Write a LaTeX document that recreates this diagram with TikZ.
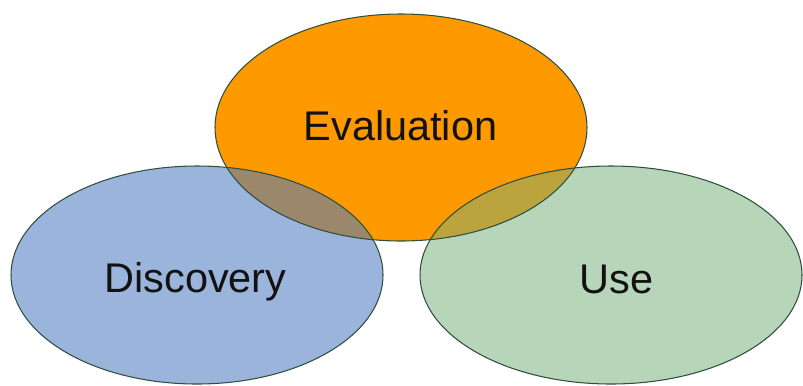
\documentclass[tikz,border=0pt]{standalone}
\usepackage{fontspec}
\setmainfont{Liberation Sans}
\definecolor{evalorange}{HTML}{FF9900}
\definecolor{discblue}{HTML}{9AB4DC}
\definecolor{usegreen}{HTML}{B7D5B8}
\definecolor{leftmix}{HTML}{9B886B}
\definecolor{rightmix}{HTML}{BBA43E}
\definecolor{rimline}{HTML}{2E4F3E}
\begin{document}
\begin{tikzpicture}[rim/.style={draw=rimline, line width=0.6pt}, setlabel/.style={font=\fontsize{23.6}{28}\selectfont, text=black!93, anchor=base, inner sep=0pt}]
\useasboundingbox (0,0) rectangle (16.06,-7.70);
\coordinate (ce) at (8.02,-2.55);
\coordinate (cd) at (3.94,-5.50);
\coordinate (cu) at (12.22,-5.50);
\fill[evalorange] (ce) ellipse [x radius=3.72, y radius=2.27];
\fill[discblue] (cd) ellipse [x radius=3.72, y radius=2.18];
\fill[usegreen] (cu) ellipse [x radius=3.82, y radius=2.18];
\begin{scope}
\clip (ce) ellipse [x radius=3.72, y radius=2.27];
\fill[leftmix] (cd) ellipse [x radius=3.72, y radius=2.18];
\fill[rightmix] (cu) ellipse [x radius=3.82, y radius=2.18];
\end{scope}
\draw[rim] (ce) ellipse [x radius=3.72, y radius=2.27];
\draw[rim] (cd) ellipse [x radius=3.72, y radius=2.18];
\draw[rim] (cu) ellipse [x radius=3.82, y radius=2.18];
\node[setlabel] (evaluation) at (8.01,-2.80) {Evaluation};
\node[setlabel] (discovery) at (3.91,-5.84) {Discovery};
\node[setlabel] (use) at (12.33,-5.86) {Use};
\end{tikzpicture}
\end{document}
